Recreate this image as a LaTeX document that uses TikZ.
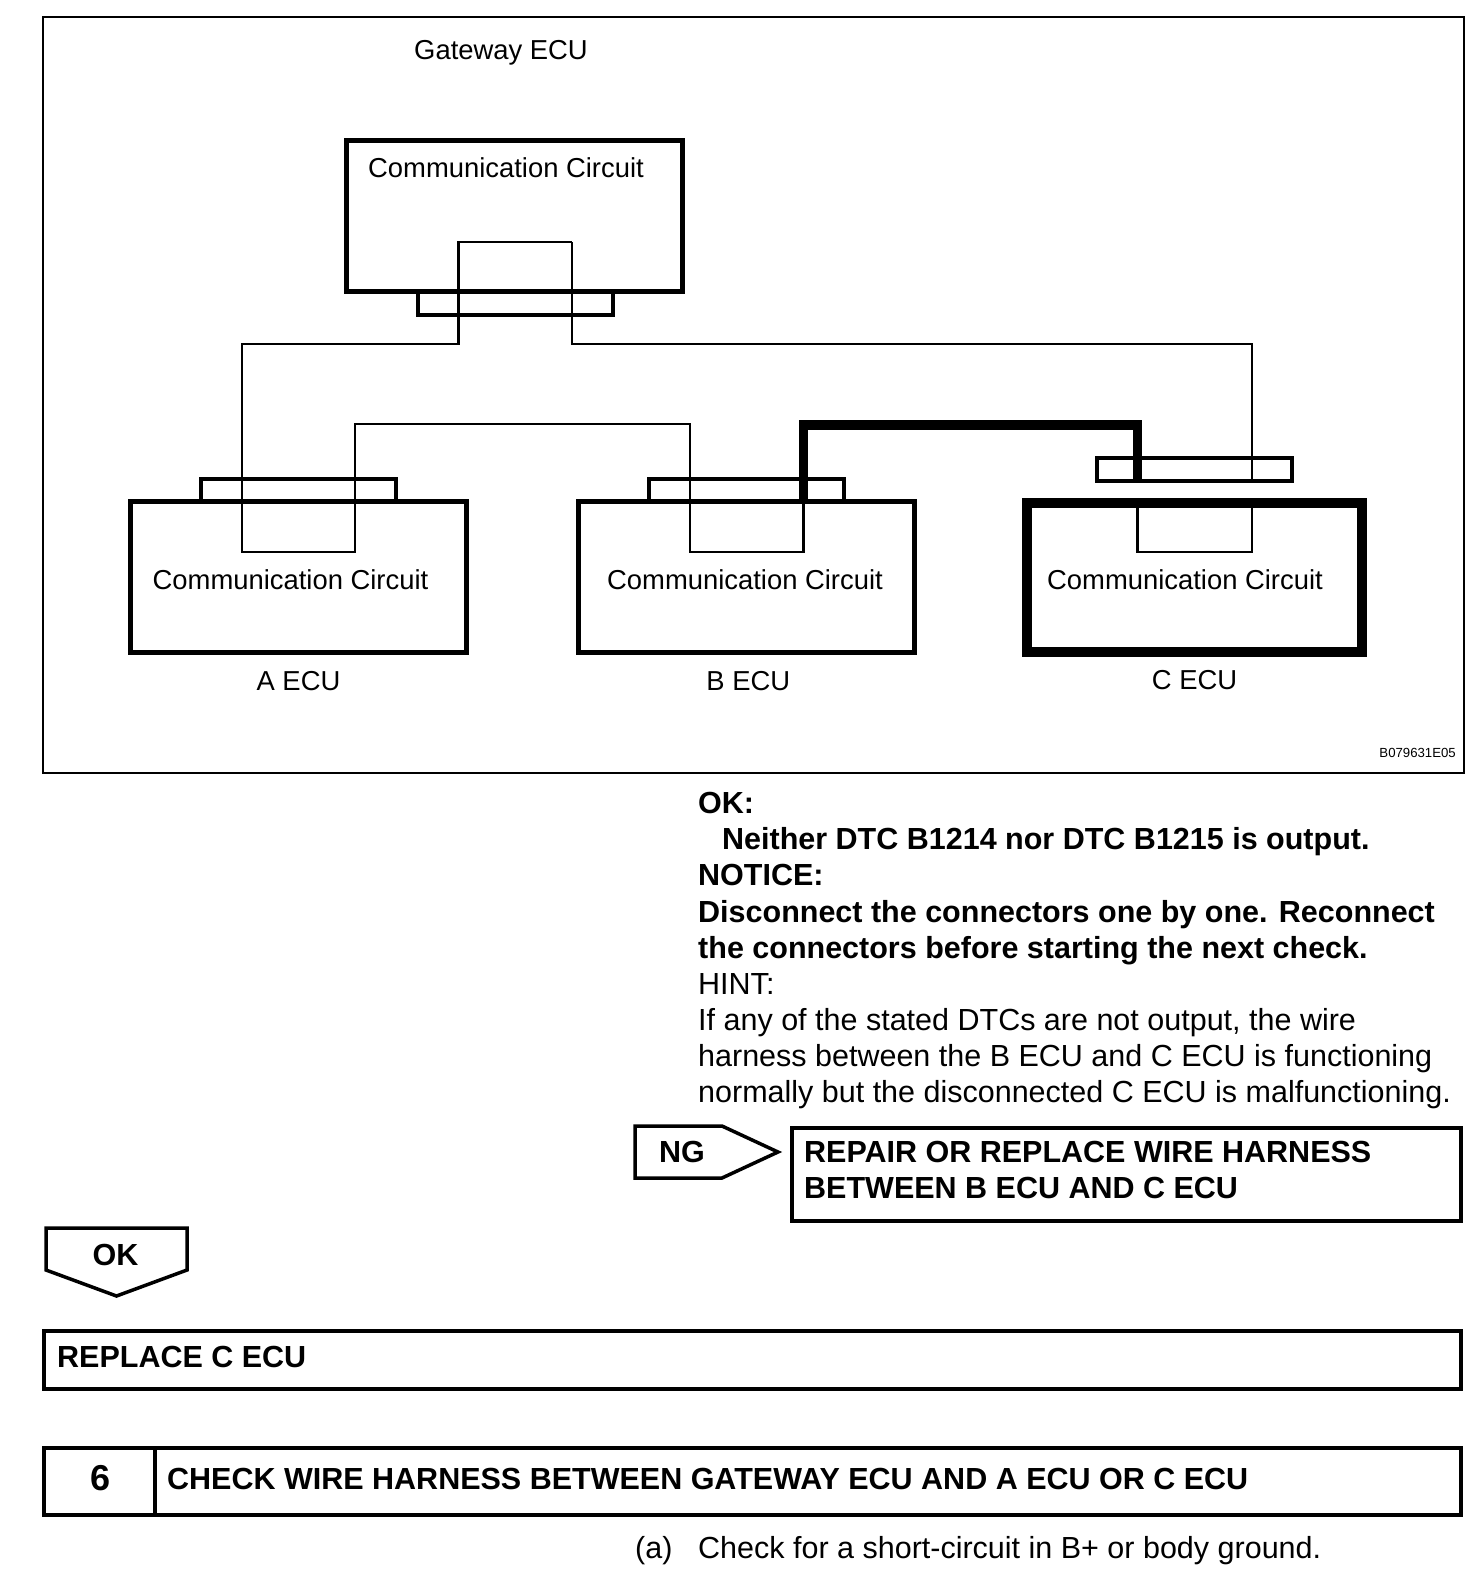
\documentclass[tikz,border=0pt]{standalone}
\usepackage{fontspec}
\setmainfont{Liberation Sans}
\usetikzlibrary{positioning}

\begin{document}
\begin{tikzpicture}[
x=1pt, y=-1pt,
frame/.style={rectangle, draw=black, line width=2pt, inner sep=0pt, outer sep=0pt},
ecubox/.style={rectangle, draw=black, line width=5pt, inner sep=0pt, outer sep=0pt, minimum width=336.5pt, minimum height=150.5pt},
port/.style={rectangle, draw=black, line width=4pt, inner sep=0pt, outer sep=0pt, minimum width=195pt, minimum height=23pt},
headbox/.style={rectangle, draw=black, line width=4pt, inner sep=0pt, outer sep=0pt},
tag/.style={draw=black, line width=3.5pt, line join=miter},
wire/.style={draw=black, line width=2.2pt, line join=miter},
heavywire/.style={draw=black, line width=9.5pt, line join=miter},
circuit/.style={anchor=base west, inner sep=0pt, font=\fontsize{27.4}{32}\selectfont},
ecuname/.style={inner sep=0pt, font=\fontsize{27.4}{32}\selectfont},
body/.style={anchor=base west, inner sep=0pt, align=left, font=\fontsize{30.5}{36.1}\selectfont},
head/.style={anchor=base west, inner sep=0pt, font=\fontsize{30.5}{36.5}\selectfont\bfseries}
]
\useasboundingbox (0,0) rectangle (1472,1596);

\node[frame, minimum width=1421pt, minimum height=756pt] (border) at (753.5,395) {};

\node[ecubox, minimum width=335.5pt, minimum height=151pt] (gatebox) at (514.5,216) {};
\node[ecubox] (abox) at (298.5,577) {};
\node[ecubox, minimum width=336pt, right=112pt of abox] (bbox) {};
\node[ecubox, line width=10pt, minimum width=335pt, minimum height=149pt] (cbox) at (1194.5,577) {};

\node[port, minimum width=195.5pt] (gateport) at (515.5,303.5) {};
\node[port, above=0pt of abox] (aport) {};
\node[port, above=0pt of bbox] (bport) {};
\node[port] (cport) at (1194.5,469.5) {};

\node[circuit] (gatetext) at (368,177.5) {Communication Circuit};
\node[circuit] (atext) at (152.5,589) {Communication Circuit};
\node[circuit] (btext) at (607,589) {Communication Circuit};
\node[circuit] (ctext) at (1047,589) {Communication Circuit};

\node[circuit] (gatename) at (414,59) {Gateway ECU};
\node[ecuname, below=18.5pt of abox] (aname) {A ECU};
\node[ecuname, below=18.5pt of bbox, xshift=1.5pt] (bname) {B ECU};
\node[ecuname, below=18.5pt of cbox] (cname) {C ECU};
\node[anchor=base east, inner sep=0pt, font=\fontsize{13.2}{15}\selectfont] (drawno) at (1456,757) {B079631E05};

\coordinate (gtopl) at (458.5,242);
\coordinate (gtopr) at (572,242);
\coordinate (gbendl) at (458.5,344);
\coordinate (gbendr) at (572,344);
\coordinate (adipl) at (242,552);
\coordinate (adipr) at (355,552);
\coordinate (abbend) at (690,424);
\coordinate (bdipl) at (690,552);
\coordinate (bdipr) at (803.5,552);
\coordinate (bcbend) at (803.5,425);
\coordinate (cdipl) at (1137.5,552);
\coordinate (cdipr) at (1252,552);

\draw[wire] (gtopr) -- (gtopl) -- (gbendl) -| (adipl) -- (adipr) |- (abbend) -- (bdipl) -- (bdipr) -- (bbox.north -| bdipr);
\draw[wire] (gtopr) -- (gbendr) -| (cport.south -| cdipr);
\draw[wire] (cbox.north -| cdipl) -- (cdipl) -- (cdipr) -- (cbox.north -| cdipr);
\draw[heavywire] (bbox.north -| bcbend) -- (bcbend) -| (cport.south -| cdipl);

\node[body] (notes) at (698,1102.5) {\textbf{OK:}\\
\hspace*{24pt}\textbf{Neither DTC B1214 nor DTC B1215 is output.}\\
\textbf{NOTICE:}\\
\textbf{Disconnect the connectors one by one. Reconnect}\\
\textbf{the connectors before starting the next check.}\\
HINT:\\
If any of the stated DTCs are not output, the wire\\
harness between the B ECU and C ECU is functioning\\
normally but the disconnected C ECU is malfunctioning.};

\draw[tag] (635,1126) -- (722,1126) -- (778,1152) -- (722,1178) -- (635,1178) -- cycle;
\node[head] (ngtext) at (659,1162) {NG};
\node[headbox, minimum width=669pt, minimum height=92.5pt] (repairbox) at (1126.5,1174.25) {};
\node[head, align=left] (repairtext) at (804,1198.5) {REPAIR OR REPLACE WIRE HARNESS\\BETWEEN B ECU AND C ECU};

\draw[tag] (46,1228) -- (187,1228) -- (187,1270) -- (116.5,1296) -- (46,1270) -- cycle;
\node[head] (oktext) at (92.5,1265) {OK};
\node[headbox, minimum width=1417pt, minimum height=57.5pt] (replacebox) at (752.5,1360) {};
\node[head] (replacetext) at (57,1367.5) {REPLACE C ECU};

\node[headbox, minimum width=110.5pt, minimum height=66.5pt] (stepnum) at (99.25,1481.25) {};
\node[headbox, minimum width=1306.5pt, minimum height=66.5pt, right=0pt of stepnum] (steptitle) {};
\node[anchor=base, inner sep=0pt, font=\fontsize{36}{40}\selectfont\bfseries] (stepno) at (100.5,1490) {6};
\node[head] (steptext) at (167,1489) {CHECK WIRE HARNESS BETWEEN GATEWAY ECU AND A ECU OR C ECU};

\node[body] (stepa) at (635,1558) {(a)};
\node[body] (stepatext) at (698,1558) {Check for a short-circuit in B+ or body ground.};
\end{tikzpicture}
\end{document}
